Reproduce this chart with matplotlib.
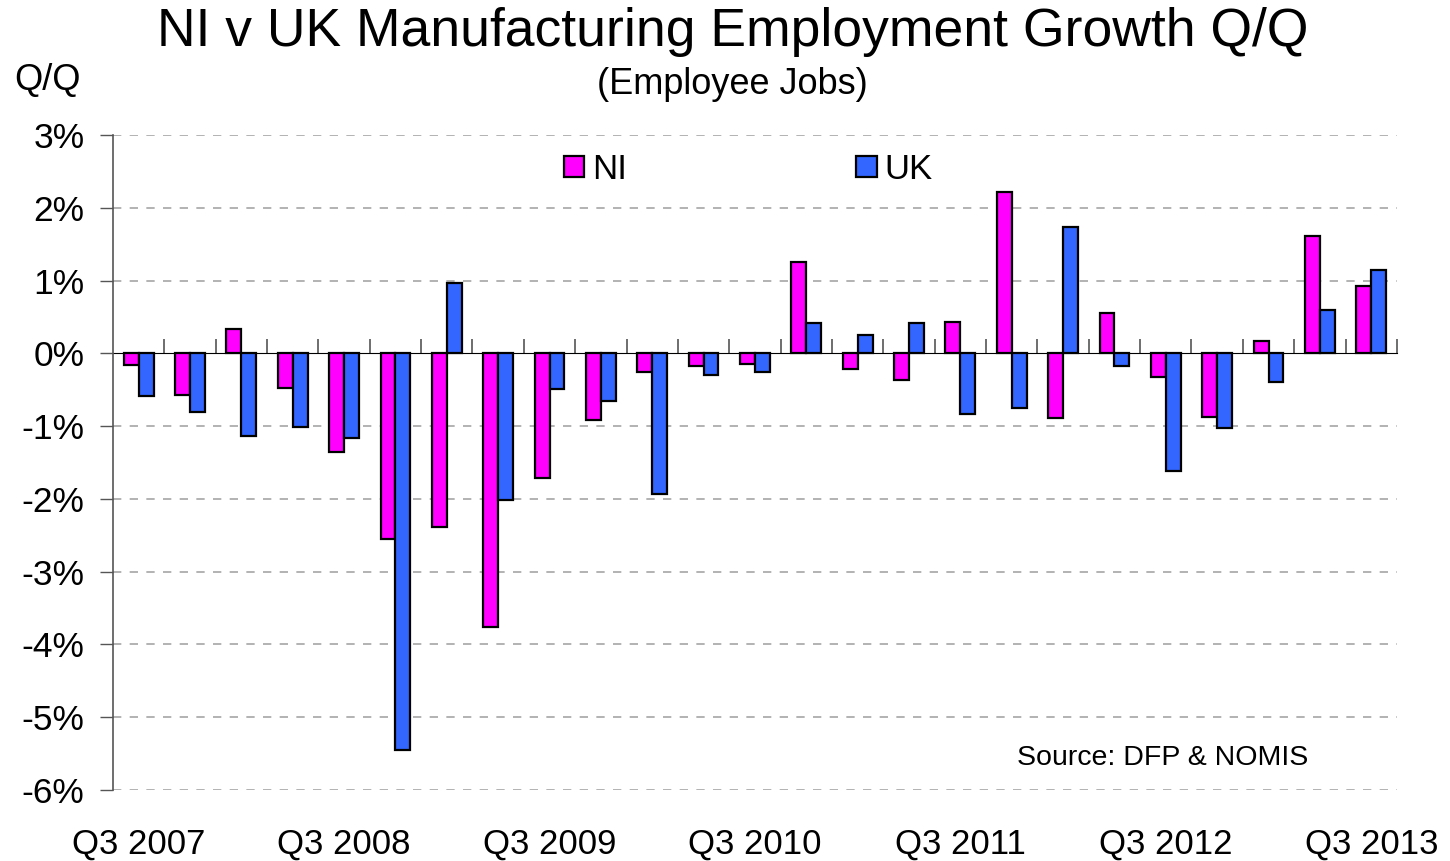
import matplotlib

matplotlib.use('Agg')
import matplotlib.pyplot as plt
import numpy as np

plt.rcParams['font.family'] = ['Liberation Sans', 'DejaVu Sans']

# quarters Q3 2007 .. Q3 2013
quarters = ['Q3 2007', 'Q4 2007', 'Q1 2008', 'Q2 2008', 'Q3 2008', 'Q4 2008',
            'Q1 2009', 'Q2 2009', 'Q3 2009', 'Q4 2009', 'Q1 2010', 'Q2 2010',
            'Q3 2010', 'Q4 2010', 'Q1 2011', 'Q2 2011', 'Q3 2011', 'Q4 2011',
            'Q1 2012', 'Q2 2012', 'Q3 2012', 'Q4 2012', 'Q1 2013', 'Q2 2013',
            'Q3 2013']
ni = [-0.16, -0.57, 0.33, -0.48, -1.36, -2.55, -2.38, -3.76, -1.71, -0.92,
      -0.25, -0.17, -0.14, 1.26, -0.22, -0.36, 0.43, 2.21, -0.89, 0.56,
      -0.33, -0.87, 0.17, 1.61, 0.92]
uk = [-0.59, -0.81, -1.14, -1.01, -1.17, -5.45, 0.96, -2.02, -0.49, -0.65,
      -1.93, -0.30, -0.26, 0.42, 0.25, 0.42, -0.84, -0.75, 1.73, -0.17,
      -1.62, -1.02, -0.39, 0.60, 1.14]
y_ticks = [3, 2, 1, 0, -1, -2, -3, -4, -5, -6]

fig = plt.figure(figsize=(14.5, 8.61), dpi=100)
ax = fig.add_axes([0.0779, 0.0825, 0.8855, 0.7607])

x = np.arange(len(quarters))
w = 0.29
ax.bar(x - w / 2, ni, w, color='#FF00FF', edgecolor='black', linewidth=1.6, label='NI', zorder=3)
ax.bar(x + w / 2, uk, w, color='#3366FF', edgecolor='black', linewidth=1.6, label='UK', zorder=3)

ax.set_xlim(-0.5, len(quarters) - 0.5)
ax.set_ylim(-6, 3)

# y axis
ax.set_yticks(y_ticks)
ax.set_yticklabels(['%d%%' % v for v in y_ticks], fontsize=25.5)
ax.tick_params(axis='y', length=9.5, width=1, color='#555555', pad=11)
for v in y_ticks:
    if v != 0:
        ax.axhline(v, color='#A6A6A6', linestyle=(0, (5, 5)), linewidth=1.2, zorder=1)

# x labels at the bottom, every 4th quarter
ax.set_xticks(x[::4])
ax.set_xticklabels(quarters[::4], fontsize=25)
ax.tick_params(axis='x', length=0, pad=27)

for s in ['top', 'right', 'bottom']:
    ax.spines[s].set_visible(False)
ax.spines['left'].set_color('#555555')
ax.spines['left'].set_linewidth(1.2)

# zero line with category separators
sec = ax.secondary_xaxis(6 / 9)
sec.set_xticks(np.arange(0.5, len(quarters), 1))
sec.set_xticklabels([])
sec.tick_params(length=10, width=1.2, color='#555555', direction='out')
sec.spines['bottom'].set_color('#555555')
sec.spines['bottom'].set_linewidth(1.5)

leg = ax.legend(loc='center', bbox_to_anchor=(0.495, 0.948), ncol=2, frameon=False,
                fontsize=25, handlelength=0.58, handleheight=0.58, handletextpad=0.23,
                columnspacing=6.6, borderpad=0)

fig.text(0.505, 0.963, 'NI v UK Manufacturing Employment Growth Q/Q', ha='center', va='center',
         fontsize=38.5)
fig.text(0.505, 0.902, '(Employee Jobs)', ha='center', va='center', fontsize=26)
fig.text(0.010, 0.906, 'Q/Q', ha='left', va='center', fontsize=26)
fig.text(0.802, 0.120, 'Source: DFP & NOMIS', ha='center', va='center', fontsize=20.5)

fig.savefig('out.png', dpi=100)
